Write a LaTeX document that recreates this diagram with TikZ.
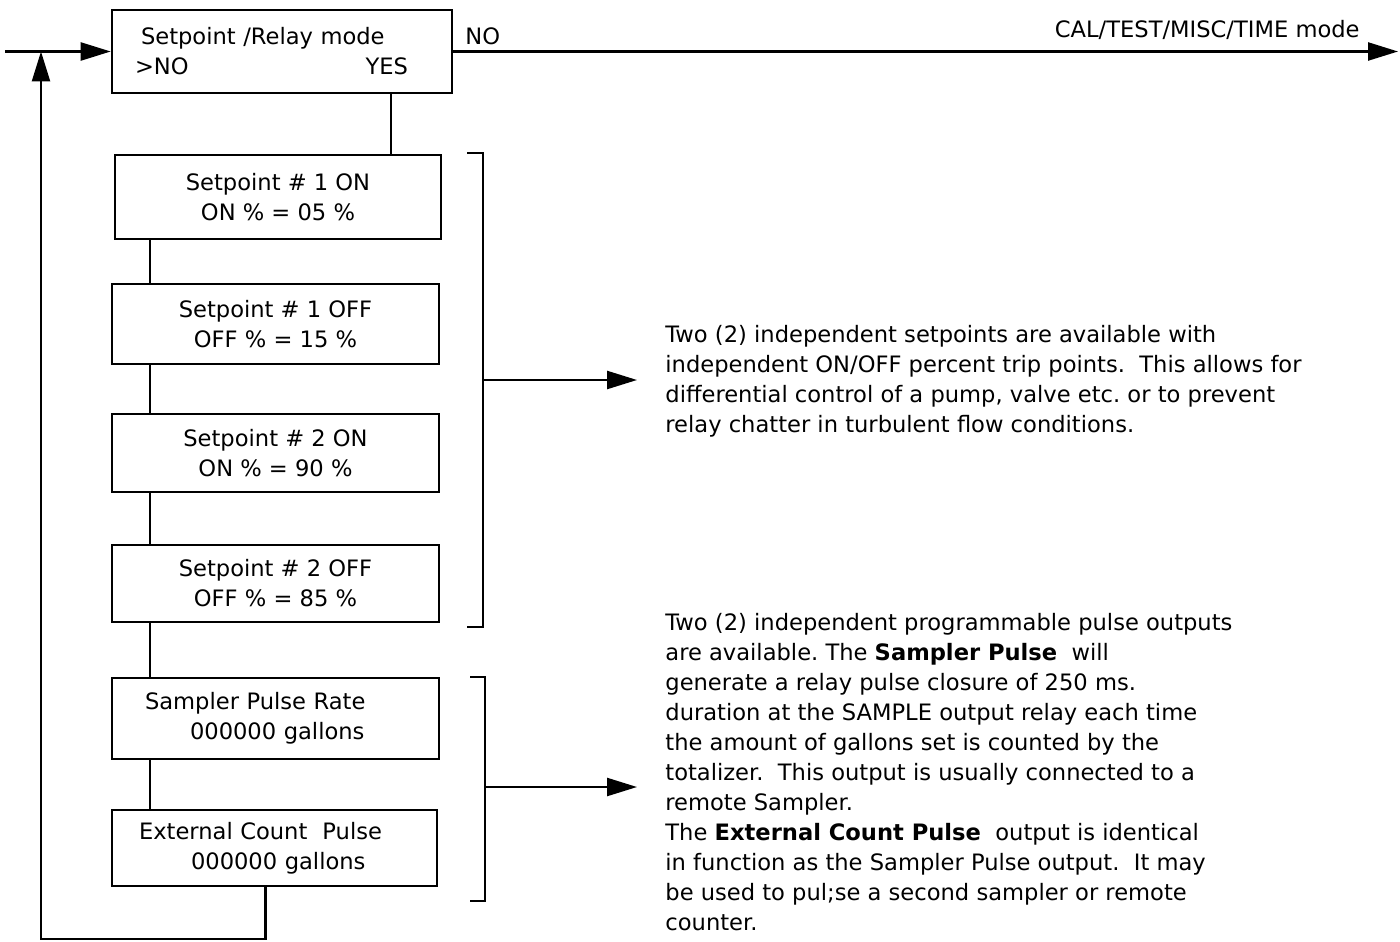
\documentclass[tikz,border=0pt]{standalone}
\usepackage{fontspec}
\setmainfont{DejaVu Sans}
\usepackage{tikz}
\usetikzlibrary{arrows.meta}
\frenchspacing

\begin{document}
\begin{tikzpicture}[x=0.5pt,y=-0.5pt,
        txt/.style={font=\fontsize{11.3}{15}\selectfont},
        box/.style={draw,line width=1.3pt,txt,minimum width=163.5pt,minimum height=40pt,align=center,inner sep=2pt},
        line/.style={line width=1.2pt},
        arr/.style={line,-{Triangle[length=15pt,width=9pt]}},
        note/.style={txt,align=left,inner sep=0pt,anchor=west}]
        \useasboundingbox (0,0) rectangle (1400,941);
        % menu boxes
        \node[box,minimum width=170pt,minimum height=41.5pt,align=left,text width=147pt] (mode) at (282,51.5)
            {\hspace*{3pt}Setpoint /Relay mode\\>NO\hfill YES\hspace{10.5pt}\null};
        \node[box,minimum width=163pt,minimum height=42pt] (sp1on) at (278,197) {Setpoint \# 1 ON\\ON \% = 05 \%};
        \node[box] (sp1off) at (275.5,324) {Setpoint \# 1 OFF\\OFF \% = 15 \%};
        \node[box,minimum height=39pt] (sp2on) at (275.5,453) {Setpoint \# 2 ON\\ON \% = 90 \%};
        \node[box,minimum height=38.5pt] (sp2off) at (275.5,583.5) {Setpoint \# 2 OFF\\OFF \% = 85 \%};
        \node[box,minimum height=40.5pt,align=left,text width=130.5pt] (smp) at (275.5,718.5)
            {Sampler Pulse Rate\\\hspace*{22.5pt}000000 gallons};
        \node[box,minimum width=162.5pt,minimum height=38pt,align=left,text width=135.5pt] (ext) at (274.5,848)
            {External Count\ \ Pulse\\\hspace*{26pt}000000 gallons};
        % side notes
        \node[note] (note1) at (665,381) {Two (2) independent setpoints are available with\\
            independent ON/OFF percent trip points.\ \ This allows for\\
            differential control of a pump, valve etc. or to prevent\\
            relay chatter in turbulent flow conditions.};
        \node[note] (note2) at (665,772) {Two (2) independent programmable pulse outputs\\
            are available. The \textbf{Sampler Pulse}\ \ will\\
            generate a relay pulse closure of 250 ms.\\
            duration at the SAMPLE output relay each time\\
            the amount of gallons set is counted by the\\
            totalizer.\ \ This output is usually connected to a\\
            remote Sampler.\\
            The \textbf{External Count Pulse}\ \ output is identical\\
            in function as the Sampler Pulse output.\ \ It may\\
            be used to pul;se a second sampler or remote\\
            counter.};
        \node[txt,anchor=base west,inner sep=0pt] (nolbl) at (465,45) {NO};
        \node[txt,anchor=base east,inner sep=0pt] (nextlbl) at (1360,38) {CAL/TEST/MISC/TIME mode};
        % connectors
        \coordinate (in) at (5,51.5);
        \coordinate (out) at (1398,51.5);
        \coordinate (merge) at (41,51.5);
        \coordinate (low) at (41,939);
        \coordinate (yes) at (391,0);
        \coordinate (cx) at (150,0);
        \draw[arr] (in) -- (mode.west);
        \draw[arr] (mode.east) -- (out);
        \draw[line] (mode.south -| yes) -- (sp1on.north -| yes);
        \draw[line] (sp1on.south -| cx) -- (sp1off.north -| cx);
        \draw[line] (sp1off.south -| cx) -- (sp2on.north -| cx);
        \draw[line] (sp2on.south -| cx) -- (sp2off.north -| cx);
        \draw[line] (sp2off.south -| cx) -- (smp.north -| cx);
        \draw[line] (smp.south -| cx) -- (ext.north -| cx);
        \draw[arr] ([xshift=-4.5pt]ext.south) |- (low) -- (merge);
        % brackets
        \coordinate (b1t) at (467,153);
        \coordinate (b1m) at (483,380);
        \coordinate (b1b) at (467,627);
        \coordinate (b2t) at (470,677);
        \coordinate (b2m) at (485,787);
        \coordinate (b2b) at (470,901);
        \draw[line] (b1t) -| (b1m) |- (b1b);
        \draw[line] (b2t) -| (b2m) |- (b2b);
        \draw[arr,shorten >=14pt] (b1m) -- (b1m -| note1.west);
        \draw[arr,shorten >=14pt] (b2m) -- (b2m -| note2.west);
\end{tikzpicture}
\end{document}
